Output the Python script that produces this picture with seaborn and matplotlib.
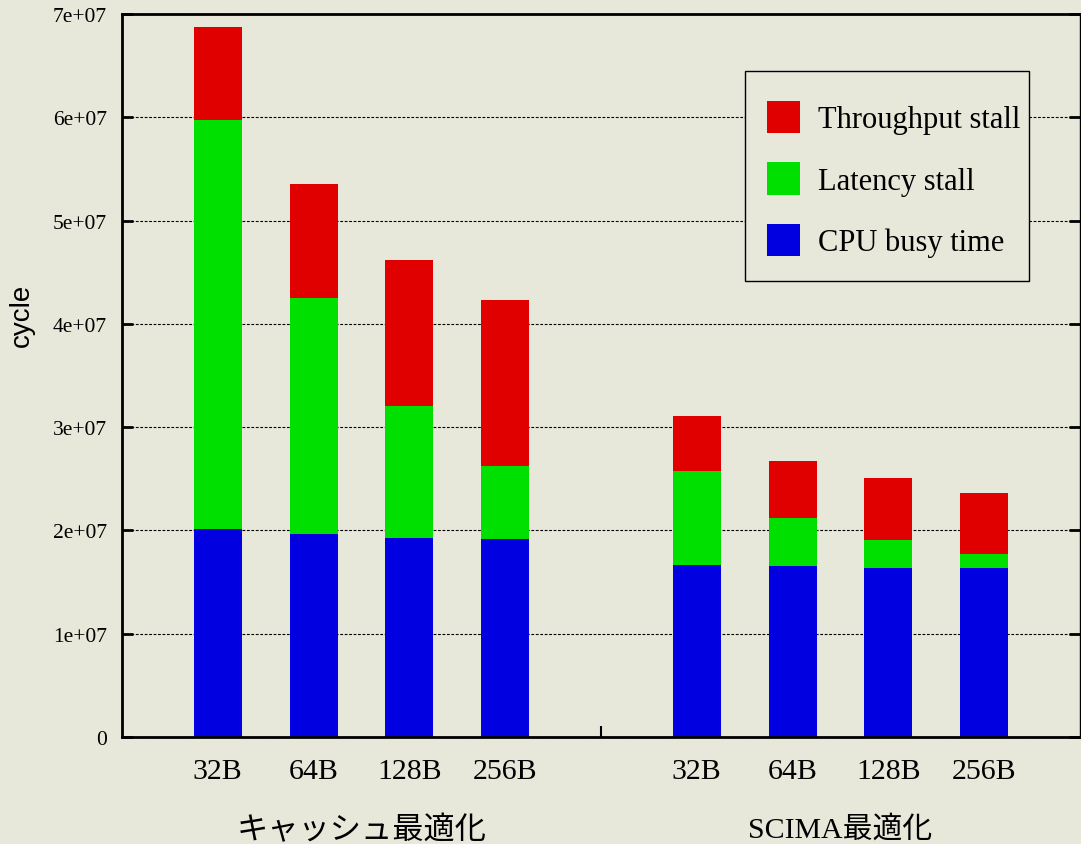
import matplotlib
matplotlib.use("Agg")
import matplotlib.pyplot as plt
import matplotlib.transforms as mtransforms
from matplotlib.patches import Patch, Rectangle
import seaborn as sns
import pandas as pd

# Cycle breakdown per line size, for the two optimisation schemes
groups = ["キャッシュ最適化", "SCIMA最適化"]
line_sizes = ["32B", "64B", "128B", "256B"]
cpu_busy = [2.01e7, 1.965e7, 1.93e7, 1.92e7,
            1.665e7, 1.655e7, 1.635e7, 1.635e7]
latency_stall = [3.96e7, 2.285e7, 1.27e7, 0.70e7,
                 0.915e7, 0.465e7, 0.275e7, 0.135e7]
throughput_stall = [0.90e7, 1.10e7, 1.42e7, 1.61e7,
                    0.53e7, 0.55e7, 0.60e7, 0.59e7]
y_ticks = [0, 1e7, 2e7, 3e7, 4e7, 5e7, 6e7, 7e7]
y_tick_labels = ["0", "1e+07", "2e+07", "3e+07", "4e+07", "5e+07", "6e+07", "7e+07"]

BG = "#e7e7da"
RED, GREEN, BLUE = "#e00000", "#00e000", "#0000e0"
SERIF = ["Liberation Serif", "Noto Sans CJK JP"]

# bars of each group sit on consecutive slots, one empty slot between groups
n = len(line_sizes)
pos = [g * (n + 1) + i for g in range(len(groups)) for i in range(n)]
lat_top = [b + l for b, l in zip(cpu_busy, latency_stall)]
total = [t + s for t, s in zip(lat_top, throughput_stall)]

df = pd.DataFrame({"pos": pos, "cpu": cpu_busy, "lat": lat_top, "total": total})

sns.set_theme(style="white")
plt.rcParams["font.family"] = SERIF
plt.rcParams["text.color"] = "black"
plt.rcParams["axes.labelcolor"] = "black"
plt.rcParams["xtick.color"] = "black"
plt.rcParams["ytick.color"] = "black"

fig = plt.figure(figsize=(10.81, 8.45), dpi=100, facecolor=BG)
ax = fig.add_axes([122 / 1081, 1 - 738 / 845, (1080 - 122) / 1081, (738 - 15) / 845])
ax.set_facecolor(BG)

# stacked bars: draw cumulative heights from the tallest down
for col, color in [("total", RED), ("lat", GREEN), ("cpu", BLUE)]:
    sns.barplot(data=df, x="pos", y=col, native_scale=True, width=0.5,
                color=color, saturation=1, linewidth=0, ax=ax, errorbar=None)

ax.set_xlim(-1, 9)
ax.set_ylim(0, 7e7)

ax.set_yticks(y_ticks)
ax.set_yticklabels(y_tick_labels, fontsize=15.5)
ax.tick_params(axis="y", which="major", direction="in", length=8, width=2,
               left=True, right=True, pad=11, colors="black")

ax.set_xticks(pos)
ax.set_xticklabels(line_sizes * len(groups), fontsize=21.5)
ax.tick_params(axis="x", which="major", length=0, pad=15, colors="black")
ax.set_xticks([n + 0.0], minor=True)
ax.tick_params(axis="x", which="minor", direction="in", length=8, width=1.5,
               bottom=True, colors="black")

ax.set_xlabel("")
ax.set_ylabel("cycle", fontsize=20, family=["Liberation Sans"], color="black")
ax.yaxis.set_label_coords(-0.091, 0.585)

ax.grid(axis="y", color="black", linestyle=(0, (2.5, 1.5)), linewidth=0.8)
ax.set_axisbelow(True)
for side in ["left", "bottom", "top"]:
    ax.spines[side].set_linewidth(2)
    ax.spines[side].set_color("black")
ax.spines["right"].set_linewidth(1)
ax.spines["right"].set_color("black")

# group captions under the line-size labels
trans = mtransforms.blended_transform_factory(ax.transData, ax.transAxes)
caption_size = [22.5, 21.5]
for g, name in enumerate(groups):
    centre = g * (n + 1) + (n - 1) / 2
    ax.text(centre, -0.127, name, transform=trans, ha="center", va="center",
            fontsize=caption_size[g], color="black",
            family=SERIF if g == 1 else ["Noto Sans CJK JP"])

# legend box, then the entries placed inside it
ax.add_patch(Rectangle((0.650, 0.631), 0.297, 0.290, transform=ax.transAxes,
                       facecolor=BG, edgecolor="black", linewidth=1, zorder=4))
handles = [Patch(facecolor=RED, edgecolor="none", label="Throughput stall"),
           Patch(facecolor=GREEN, edgecolor="none", label="Latency stall"),
           Patch(facecolor=BLUE, edgecolor="none", label="CPU busy time")]
leg = ax.legend(handles=handles, loc="upper left", bbox_to_anchor=(0.673, 0.880),
                fontsize=22, frameon=False, handlelength=1.08,
                handleheight=1.25, handletextpad=0.6, labelspacing=0.92,
                borderpad=0, borderaxespad=0)
leg.set_zorder(5)

fig.savefig("out.png", dpi=100, facecolor=BG)
